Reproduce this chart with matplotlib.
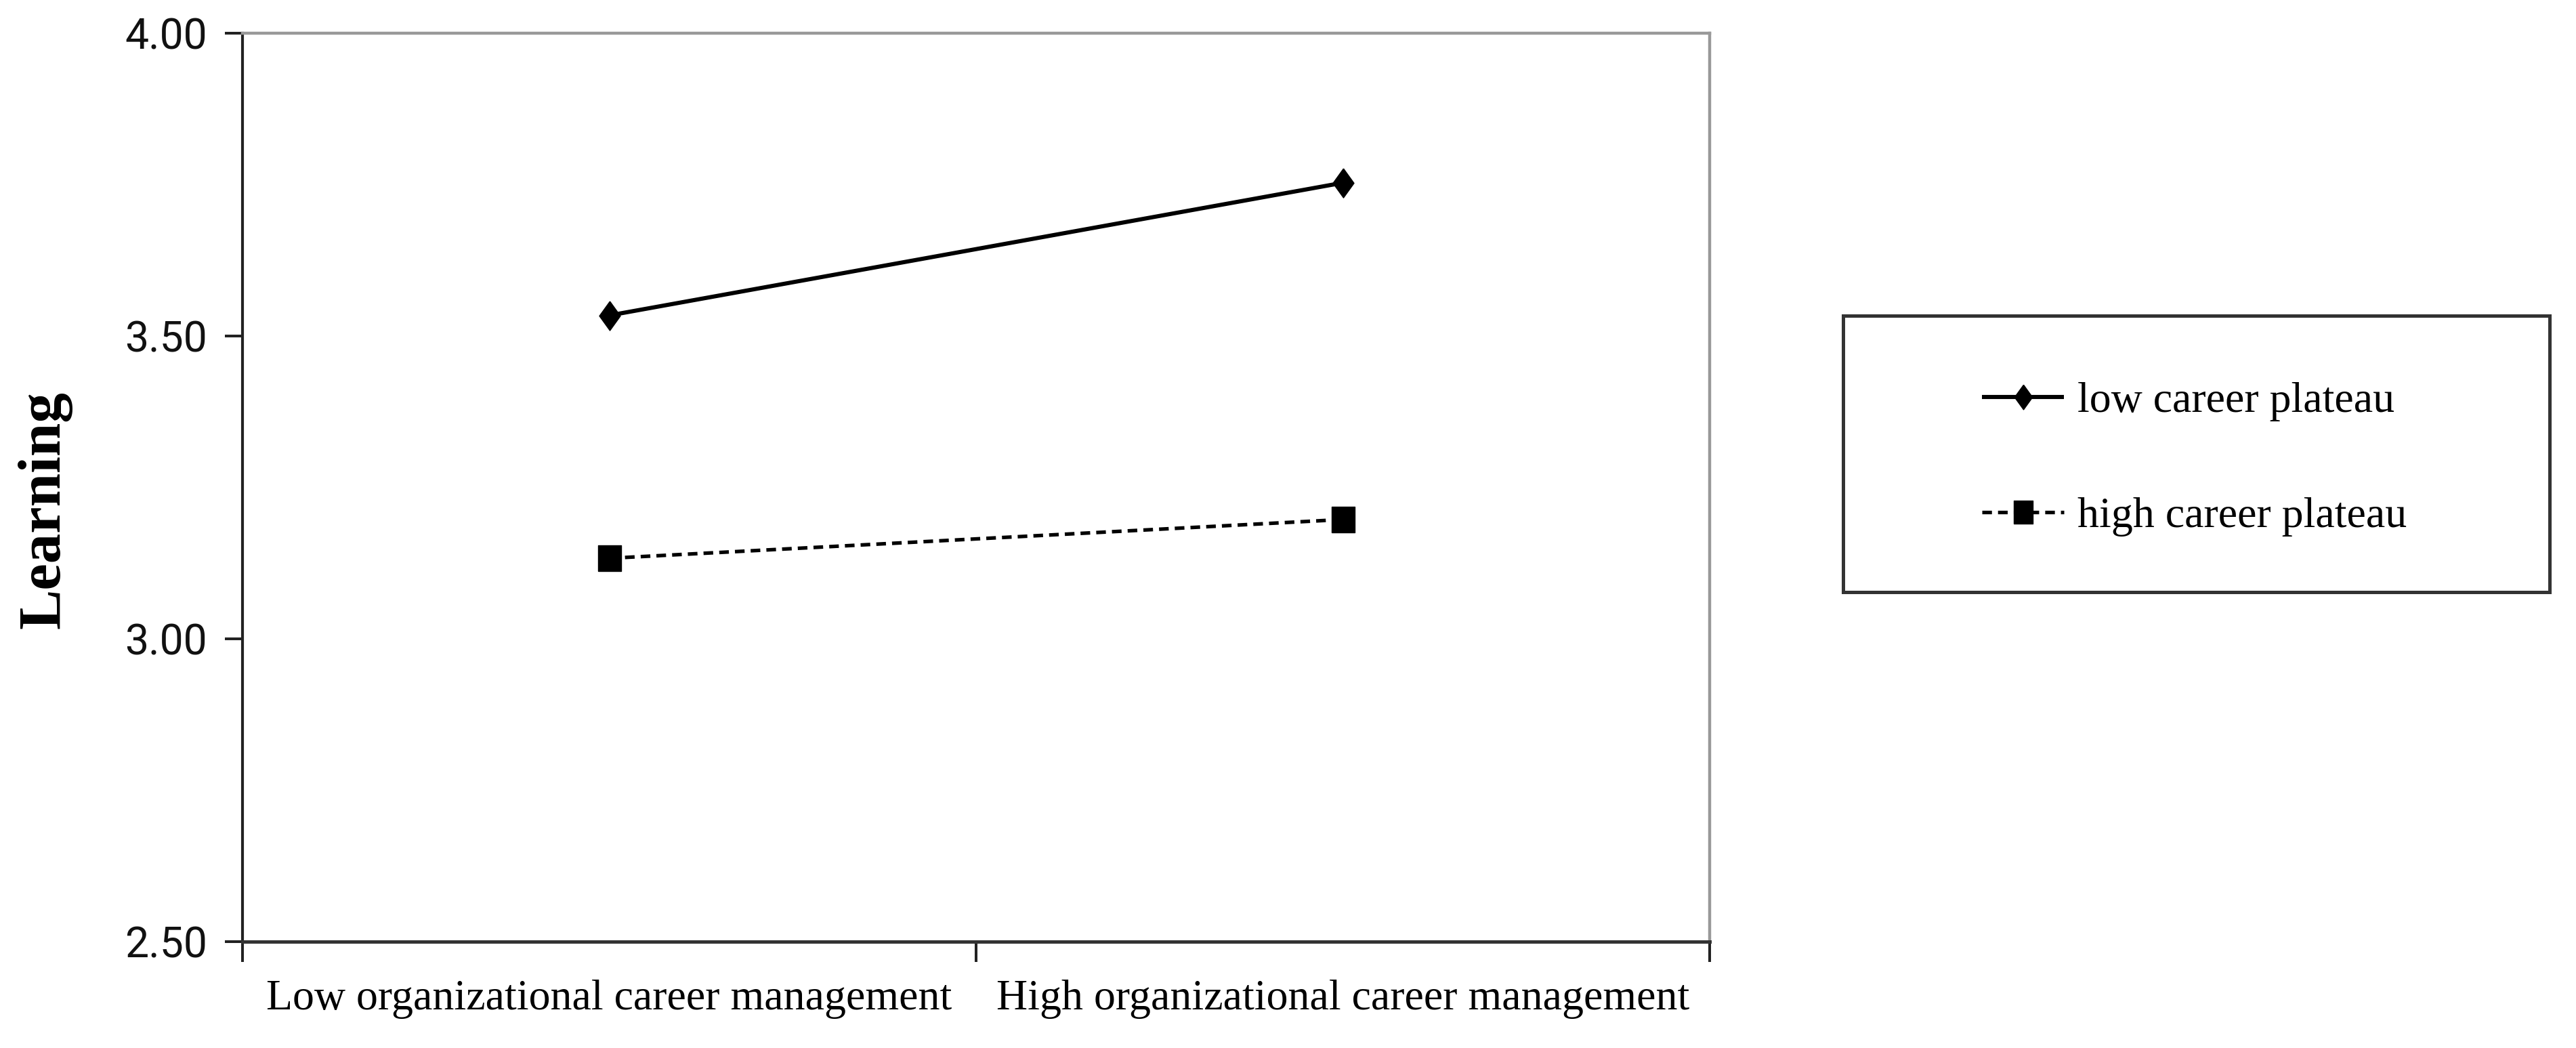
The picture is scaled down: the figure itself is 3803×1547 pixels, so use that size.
import matplotlib
matplotlib.use("Agg")
import matplotlib.pyplot as plt
from matplotlib.patches import Rectangle

# ---- data ----
categories = ["Low organizational career management", "High organizational career management"]
series_names = ["low career plateau", "high career plateau"]
low_plateau = [3.534, 3.753]
high_plateau = [3.133, 3.197]
y_ticks = [2.50, 3.00, 3.50, 4.00]
y_tick_labels = ["2.50", "3.00", "3.50", "4.00"]
y_label = "Learning"

W, H = 3803, 1547
fig = plt.figure(figsize=(W / 100, H / 100), dpi=100)
fig.patch.set_facecolor("white")

L, R, T, B = 358, 2524, 49, 1390
ax = fig.add_axes([L / W, 1 - B / H, (R - L) / W, (B - T) / H])

diamond = [(0, 1), (0.72, 0), (0, -1), (-0.72, 0), (0, 1)]
rect = [(-0.85, -1), (0.85, -1), (0.85, 1), (-0.85, 1), (-0.85, -1)]

xs = list(range(len(categories)))
l1, = ax.plot(xs, low_plateau, color="black", lw=4.4, marker=diamond,
              markersize=31, markerfacecolor="black", markeredgecolor="black",
              label=series_names[0], solid_capstyle="butt")
l2, = ax.plot(xs, high_plateau, color="black", lw=3.8, linestyle=(0, (2.7, 1.7)),
              marker=rect, markersize=28, markerfacecolor="black",
              markeredgecolor="black", label=series_names[1])

ax.set_xlim(-0.5, len(categories) - 0.5)
ax.set_ylim(y_ticks[0], y_ticks[-1])

ax.set_yticks(y_ticks)
ax.set_yticklabels(y_tick_labels, family="Roboto", fontsize=45)
ax.tick_params(axis="y", direction="out", length=18.7, width=2.9, pad=19,
               color="#222222", labelcolor="#111111")

ax.set_xticks([i - 0.5 for i in range(len(categories) + 1)])
ax.set_xticklabels([])
ax.set_xticks(xs, minor=True)
ax.set_xticklabels(categories, minor=True, family="Liberation Serif", fontsize=46)
ax.tick_params(axis="x", which="major", direction="out", length=21.6, width=2.9,
               color="#222222")
ax.tick_params(axis="x", which="minor", length=0, pad=40, labelcolor="#000000")

ax.spines["left"].set_color("#222222")
ax.spines["left"].set_linewidth(3.0)
ax.spines["bottom"].set_color("#333333")
ax.spines["bottom"].set_linewidth(3.6)
for s in ("top", "right"):
    ax.spines[s].set_color("#999999")
    ax.spines[s].set_linewidth(3.2)

fig.text(66 / W, 1 - 753 / H, y_label, rotation=90, ha="center", va="center",
         family="Liberation Serif", fontweight="bold", fontsize=64, color="#000000")

# legend box
bx0, bx1, by0, by1 = 2721, 3764, 466, 874
fig.patches.append(Rectangle((bx0 / W, 1 - by1 / H), (bx1 - bx0) / W, (by1 - by0) / H,
                             transform=fig.transFigure, facecolor="white",
                             edgecolor="#333333", lw=3.6))
fig.legend(handles=[l1, l2], loc="center left", bbox_to_anchor=(2926 / W, 1 - 678 / H),
           frameon=False, borderpad=0, borderaxespad=0, handlelength=1.9,
           handletextpad=0.3, labelspacing=1.74, markerscale=0.85,
           prop={"family": "Liberation Serif", "size": 46})

fig.savefig("out.png", dpi=100, facecolor="white")
